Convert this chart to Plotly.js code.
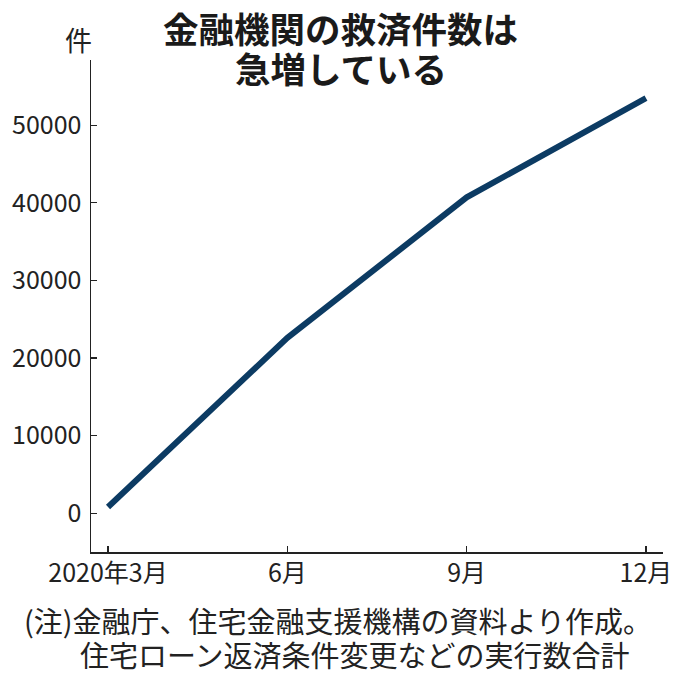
<!DOCTYPE html>
<html>
<head>
<meta charset="utf-8">
<script src="https://cdn.plot.ly/plotly-3.0.1.min.js"></script>
<style>html,body{margin:0;padding:0;background:#fff;}#chart{width:680px;height:680px;}</style>
</head>
<body>
<div id="chart"></div>
<script>
// Data
const periods = ['2020年3月', '6月', '9月', '12月'];
const reliefCases = [800, 22600, 40700, 53500];
const yTickValues = [0, 10000, 20000, 30000, 40000, 50000];
const titleLines = ['金融機関の救済件数は', '急増している'];
const unitLabel = '件';
const noteLines = ['(注)金融庁、住宅金融支援機構の資料より作成。', '住宅ローン返済条件変更などの実行数合計'];

const xPos = periods.map((_, i) => i);
const cjkFont = '"Noto Sans CJK JP", sans-serif';

const trace = {
  x: xPos,
  y: reliefCases,
  type: 'scatter',
  mode: 'lines',
  line: {color: '#0c3b63', width: 6},
  hoverinfo: 'skip'
};

const L = 91, R = 663, T = 60, B = 552;
const W = R - L, H = B - T;
const px = x => (x - L) / W;
const py = y => (B - y) / H;

const layout = {
  width: 680, height: 680,
  margin: {l: L, r: 680 - R, t: T, b: 680 - B, pad: 0},
  paper_bgcolor: '#ffffff',
  plot_bgcolor: '#ffffff',
  showlegend: false,
  xaxis: {
    range: [-0.095, 3.095],
    tickmode: 'array',
    tickvals: xPos,
    ticktext: periods,
    ticks: 'inside', ticklen: 6, tickwidth: 1.2, tickcolor: '#222',
    showline: true, linecolor: '#222', linewidth: 1.5,
    showgrid: false, zeroline: false,
    tickfont: {family: cjkFont, size: 25, color: '#222'},
    ticklabelstandoff: -2,
    fixedrange: true
  },
  yaxis: {
    range: [-5000, 58400],
    tickmode: 'array',
    tickvals: yTickValues,
    ticktext: yTickValues.map(String),
    ticks: 'inside', ticklen: 6, tickwidth: 1.2, tickcolor: '#222',
    showline: true, linecolor: '#222', linewidth: 1.5,
    showgrid: false, zeroline: false,
    tickfont: {family: cjkFont, size: 25, color: '#222'},
    ticklabelstandoff: 3,
    fixedrange: true
  },
  annotations: [
    {text: '<b>' + titleLines[0] + '</b>', xref: 'paper', yref: 'paper', x: px(340), y: py(27.5),
     xanchor: 'center', yanchor: 'middle', showarrow: false, font: {family: cjkFont, size: 35.5, color: '#1a1a1a'}},
    {text: '<b>' + titleLines[1] + '</b>', xref: 'paper', yref: 'paper', x: px(341), y: py(67),
     xanchor: 'center', yanchor: 'middle', showarrow: false, font: {family: cjkFont, size: 35.5, color: '#1a1a1a'}},
    {text: unitLabel, xref: 'paper', yref: 'paper', x: px(78), y: py(40),
     xanchor: 'center', yanchor: 'middle', showarrow: false, font: {family: cjkFont, size: 27, color: '#222'}},
    {text: noteLines[0], xref: 'paper', yref: 'paper', x: px(338), y: py(620),
     xanchor: 'center', yanchor: 'middle', showarrow: false, font: {family: cjkFont, size: 29, color: '#222'}},
    {text: noteLines[1], xref: 'paper', yref: 'paper', x: px(355), y: py(654),
     xanchor: 'center', yanchor: 'middle', showarrow: false, font: {family: cjkFont, size: 29, color: '#222'}}
  ]
};

Plotly.newPlot('chart', [trace], layout, {displayModeBar: false, staticPlot: true});
</script>
</body>
</html>
